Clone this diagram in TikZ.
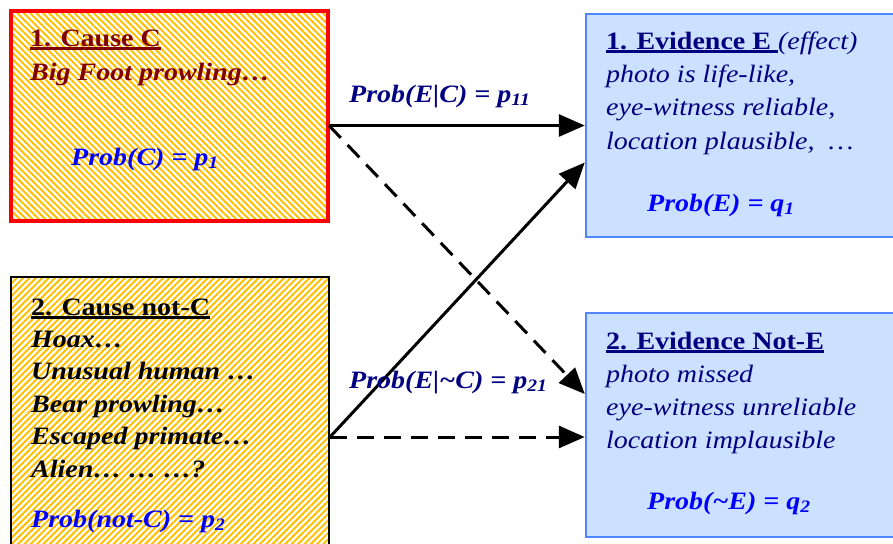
\documentclass[tikz,border=0pt]{standalone}
\usepackage{fontspec}
\setmainfont{Liberation Serif}[FakeStretch=1.12]
\usetikzlibrary{arrows.meta,patterns.meta,calc}
\definecolor{stripe}{HTML}{FFC000}
\definecolor{darkred}{HTML}{800000}
\definecolor{navy}{HTML}{000080}
\definecolor{probblue}{HTML}{0000FF}
\definecolor{evfill}{HTML}{CCE0FF}
\definecolor{evline}{HTML}{4F86FF}
\newcommand{\headline}[1]{\setbox0\hbox{#1}\rlap{\rule[-3.5pt]{\wd0}{2.2pt}}\box0}
\tikzset{
  causebox/.style={draw, line width=2.5pt, pattern color=stripe},
  evidbox/.style={draw=evline, line width=2.5pt, fill=evfill},
  txt/.style={anchor=base west, inner sep=0pt, font=\fontsize{25}{30}\selectfont\bfseries\itshape},
  link/.style={line width=3pt, -{Triangle[length=26pt,width=22pt]}},
}
\begin{document}
\begin{tikzpicture}[x=1pt,y=-1pt]
  \clip (0,0) rectangle (893,543);
  \fill[white] (0,0) rectangle (893,543);
  % boxes
  \node[causebox, draw=red, line width=3.5pt, pattern={Lines[angle=-45,distance=4.5pt,line width=2pt]},
        minimum width=317pt, minimum height=210pt] (causeC) at (169.5,116) {};
  \node[causebox, pattern={Lines[angle=45,distance=4.5pt,line width=2pt]},
        minimum width=318pt, minimum height=273pt] (causeNotC) at (170,413.5) {};
  \node[evidbox, minimum width=319pt, minimum height=223pt] (evidE) at (745.5,125.5) {};
  \node[evidbox, minimum width=319pt, minimum height=224pt] (evidNotE) at (745.5,425) {};
  % box texts
  \node[txt, darkred, font=\fontsize{25}{30}\selectfont\bfseries] (titleC) at (30,46) {\headline{1. Cause C}};
  \node[txt, darkred] (bigfoot) at (30,80) {Big Foot prowling…};
  \node[txt, probblue] (probC) at (71,165) {Prob(C) = p\textsubscript{1}};
  \node[txt, font=\fontsize{25}{30}\selectfont\bfseries] (titleNotC) at (31,315) {\headline{2. Cause not-C}};
  \foreach \t [count=\i] in {Hoax…, Unusual human …, Bear prowling…, Escaped primate…, Alien… … …?}
    \node[txt] (notC\i) at (31,347+32.5*\i-32.5) {\t};
  \node[txt, probblue] (probNotC) at (31,527) {Prob(not-C) = p\textsubscript{2}};
  \node[txt, navy, font=\fontsize{25}{30}\selectfont\bfseries] (titleE) at (606,49)
    {\headline{1. Evidence E }\mdseries\itshape(effect)};
  \foreach \t [count=\i] in {{photo is life-like,}, {eye-witness reliable,}, {location plausible, \ …}}
    \node[txt, navy, font=\fontsize{25}{30}\selectfont\itshape] (lineE\i) at (606,82+33.5*\i-33.5) {\t};
  \node[txt, probblue] (probE) at (647,211) {Prob(E) = q\textsubscript{1}};
  \node[txt, navy, font=\fontsize{25}{30}\selectfont\bfseries] (titleNotE) at (606,349) {\headline{2. Evidence Not-E}};
  \foreach \t [count=\i] in {photo missed, eye-witness unreliable, location implausible}
    \node[txt, navy, font=\fontsize{25}{30}\selectfont\itshape] (lineNotE\i) at (606,382+33*\i-33) {\t};
  \node[txt, probblue] (probNotE) at (647,509) {Prob(\textasciitilde E) = q\textsubscript{2}};
  % connectors
  \coordinate (fromC) at (causeC.east |- evidE.west);
  \coordinate (fromNotC) at ($(causeNotC.east)+(0,23.5)$);
  \draw[link] (fromC) -- (evidE.west);
  \draw[link, dash pattern=on 17pt off 10pt] (fromC) -- ($(evidNotE.west)+(0,-31)$);
  \draw[link] (fromNotC) -- ($(evidE.west)+(0,37)$);
  \draw[link, dash pattern=on 17pt off 10pt] (fromNotC) -- (fromNotC -| evidNotE.west);
  \node[txt, navy] (pEC) at (349,102) {Prob(E|C) = p\textsubscript{11}};
  \node[txt, navy] (pEnC) at (349,388) {Prob(E|\textasciitilde C) = p\textsubscript{21}};
\end{tikzpicture}
\end{document}
